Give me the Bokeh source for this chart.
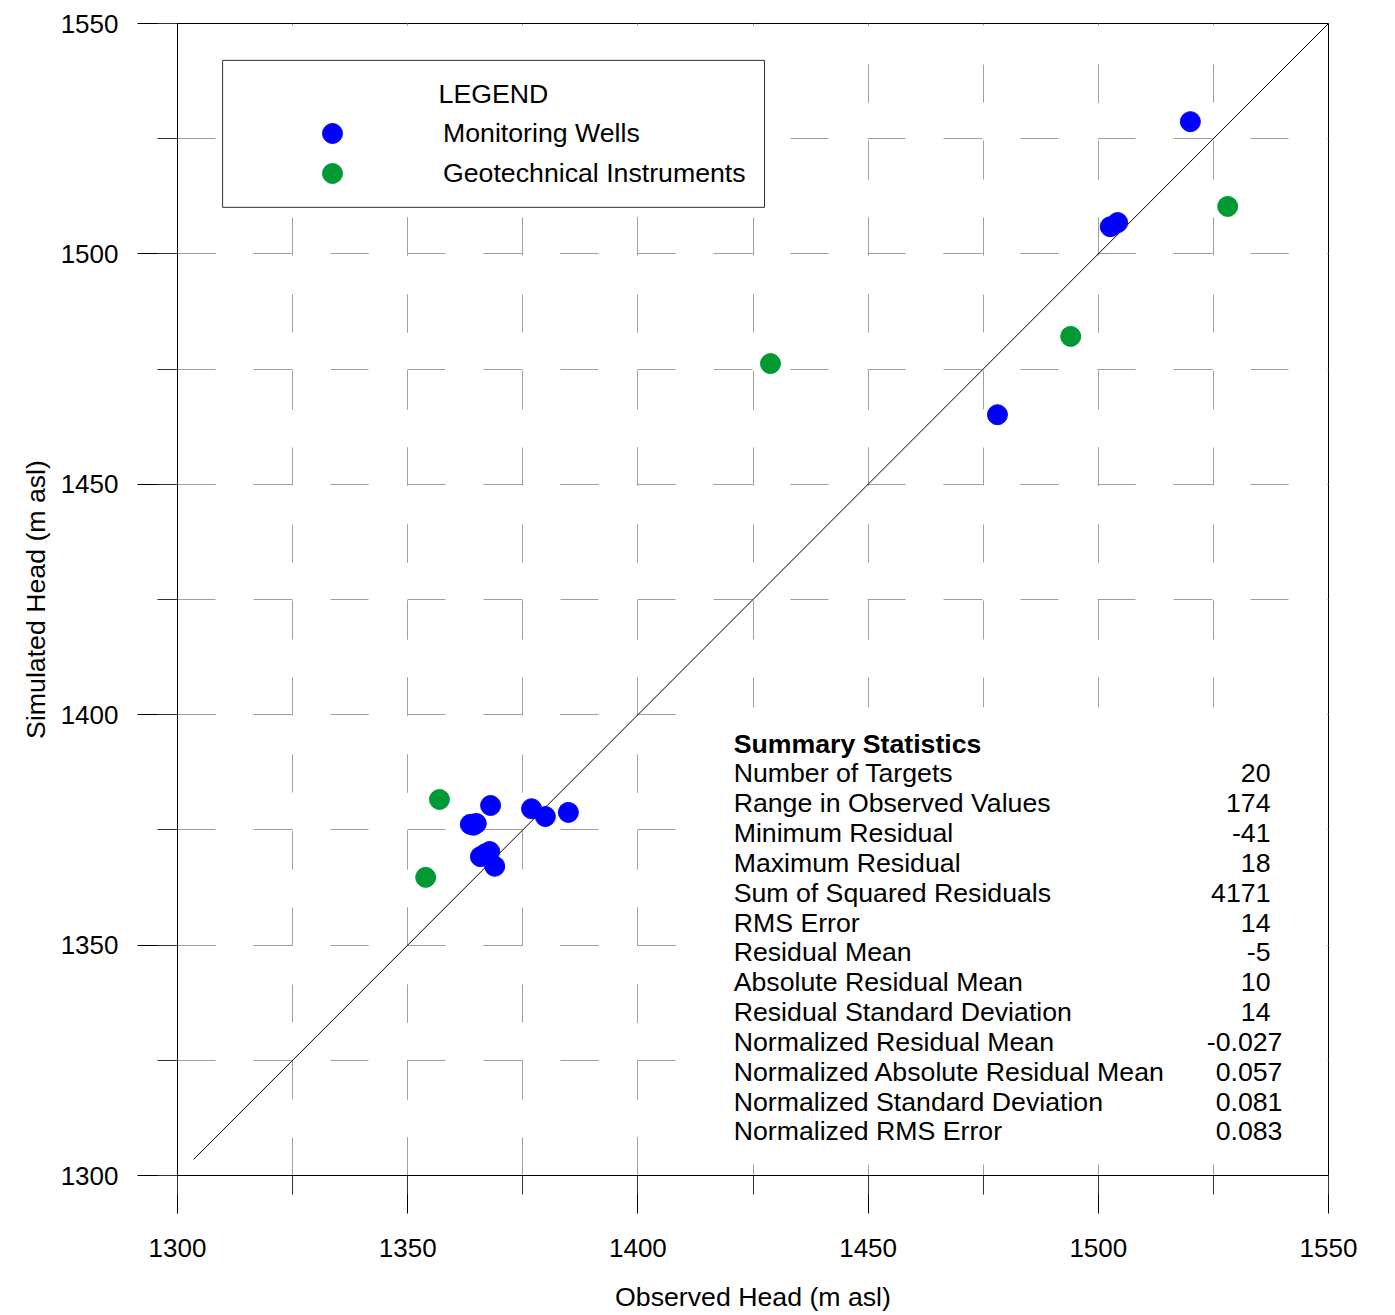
from bokeh.plotting import figure
from bokeh.models import SingleIntervalTicker, Legend, LegendItem, Label, BoxAnnotation
from bokeh.embed import file_html
from bokeh.resources import INLINE

# ---- data ----
mw_obs = [1520.0, 1502.6, 1504.2, 1478.1, 1368.0, 1363.6, 1364.9, 1364.3, 1376.9,
          1379.9, 1384.9, 1365.8, 1367.8, 1366.8, 1368.9]
mw_sim = [1528.7, 1505.9, 1506.8, 1465.1, 1380.3, 1376.2, 1376.4, 1376.0, 1379.6,
          1377.9, 1378.8, 1369.2, 1370.3, 1369.8, 1367.1]
gi_obs = [1356.9, 1353.9, 1428.8, 1494.0, 1528.1]
gi_sim = [1381.6, 1364.7, 1476.2, 1482.1, 1510.3]
line_ends = [1303.5, 1550.0]

stat_title = "Summary Statistics"
stat_names = ["Number of Targets", "Range in Observed Values", "Minimum Residual",
              "Maximum Residual", "Sum of Squared Residuals", "RMS Error",
              "Residual Mean", "Absolute Residual Mean", "Residual Standard Deviation",
              "Normalized Residual Mean", "Normalized Absolute Residual Mean",
              "Normalized Standard Deviation", "Normalized RMS Error"]
stat_values = ["20", "174", "-41", "18", "4171", "14", "-5", "10", "14",
               "-0.027", "0.057", "0.081", "0.083"]

legend_title = "LEGEND"
series_names = ["Monitoring Wells", "Geotechnical Instruments"]

FONT = "Liberation Sans"
FS = "26.7px"
TFS = "26px"
GRID = "#a0a0a0"
DASH = "38 38 39 38 38 39"

p = figure(frame_width=1151, frame_height=1152,
           x_range=(1300, 1550), y_range=(1300, 1550),
           output_backend="svg", toolbar_location=None,
           min_border_left=177, min_border_right=67,
           min_border_top=23, min_border_bottom=140,
           background_fill_color="white", border_fill_color="white")

p.outline_line_color = "black"
p.outline_line_width = 1

p.xaxis.ticker = SingleIntervalTicker(interval=50, num_minor_ticks=2)
p.yaxis.ticker = SingleIntervalTicker(interval=50, num_minor_ticks=2)

for g in (p.xgrid, p.ygrid):
    g.grid_line_color = GRID
    g.grid_line_dash = DASH
    g.grid_line_width = 1
    g.minor_grid_line_color = GRID
    g.minor_grid_line_dash = DASH
    g.minor_grid_line_width = 1

for ax in (p.xaxis, p.yaxis):
    ax.axis_line_color = "black"
    ax.major_tick_line_color = "black"
    ax.minor_tick_line_color = "#333333"
    ax.major_tick_in = 0
    ax.minor_tick_in = 0
    ax.major_label_text_font = FONT
    ax.major_label_text_font_size = TFS
    ax.major_label_text_color = "black"
    ax.axis_label_text_font = FONT
    ax.axis_label_text_font_size = FS
    ax.axis_label_text_font_style = "normal"
    ax.axis_label_text_color = "black"

p.xaxis.major_tick_out = 38
p.xaxis.minor_tick_out = 19
p.yaxis.major_tick_out = 40
p.yaxis.minor_tick_out = 20
p.xaxis.major_label_standoff = 25
p.yaxis.major_label_standoff = 19
p.xaxis.axis_label = "Observed Head (m asl)"
p.yaxis.axis_label = "Simulated Head (m asl)"
p.xaxis.axis_label_standoff = 22
p.yaxis.axis_label_standoff = 7

# 1:1 line
p.line(line_ends, line_ends, line_color="black", line_width=1)

r_mw = p.scatter(mw_obs, mw_sim, size=20, fill_color="#0000ff", line_color="#0000ff")
r_gi = p.scatter(gi_obs, gi_sim, size=20, fill_color="#009933", line_color="#009933")

# legend box
box = BoxAnnotation(left=1309.8, right=1427.5, bottom=1510.1, top=1542.0,
                    fill_color="white", fill_alpha=1.0,
                    line_color="#303030", line_alpha=1.0, line_width=1)
p.add_layout(box)

p.add_layout(Label(x=1356.7, y=1534.6, text=legend_title, text_font=FONT,
                   text_font_size=FS, text_baseline="middle", text_color="black"))

def make_legend(name, rend, loc):
    return Legend(items=[LegendItem(label=name, renderers=[rend])],
                  location=loc, orientation="vertical",
                  glyph_width=50, glyph_height=50, label_standoff=86,
                  spacing=0, padding=0, margin=0,
                  border_line_alpha=0, background_fill_alpha=0,
                  label_text_font=FONT, label_text_font_size=FS,
                  label_text_color="black", label_text_baseline="middle")

p.add_layout(make_legend(series_names[0], r_mw, (130, 1017)))
p.add_layout(make_legend(series_names[1], r_gi, (130, 977)))

# summary statistics (white panel hides the grid behind it)
stats_bg = BoxAnnotation(left=1411.4, right=1549.6, bottom=1302.4, top=1401.6,
                         fill_color="white", fill_alpha=1.0, line_alpha=0)
p.add_layout(stats_bg)

sx_left = 1420.8
sy_top = 1393.75
row = 6.475
p.add_layout(Label(x=sx_left, y=sy_top, text=stat_title, text_font=FONT,
                   text_font_size=FS, text_font_style="bold",
                   text_baseline="middle", text_color="black"))
for i, (name, val) in enumerate(zip(stat_names, stat_values)):
    yy = sy_top - (i + 1) * row
    p.add_layout(Label(x=sx_left, y=yy, text=name, text_font=FONT,
                       text_font_size=FS, text_baseline="middle", text_color="black"))
    xr = 1540.0 if "." in val else 1537.4
    p.add_layout(Label(x=xr, y=yy, text=val, text_font=FONT, text_align="right",
                       text_font_size=FS, text_baseline="middle", text_color="black"))

open("out.html", "w").write(file_html(p, INLINE))
